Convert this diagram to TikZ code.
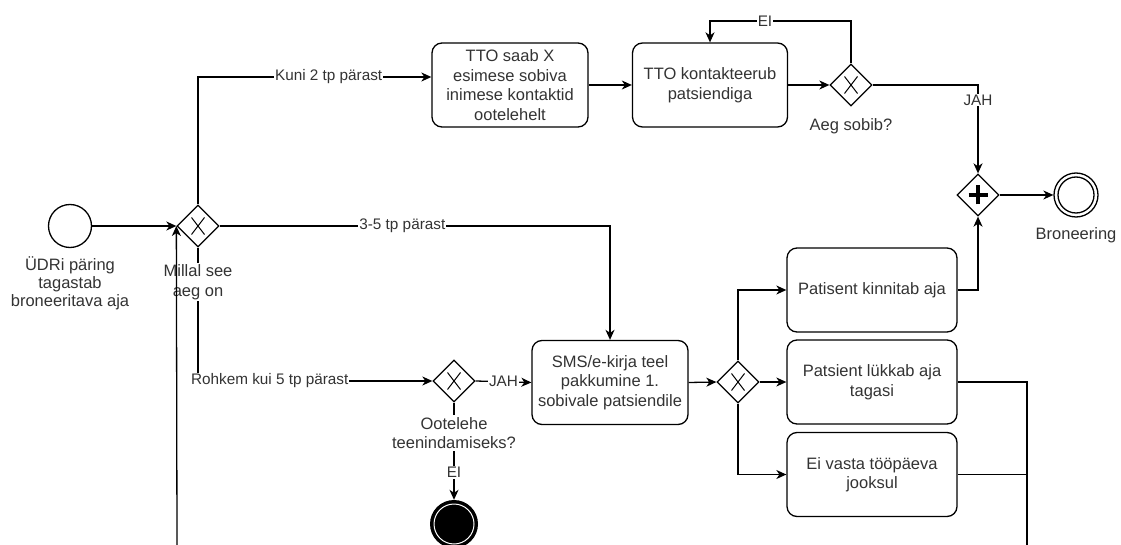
\documentclass[tikz,border=0pt]{standalone}
\usepackage{fontspec}
\setmainfont{Liberation Sans}
\usetikzlibrary{shapes.geometric,arrows.meta}
\definecolor{txt}{HTML}{333333}
\begin{document}
\begin{tikzpicture}[x=1pt,y=-1pt,
  line/.style={line width=1.3pt, draw=black},
  arr/.style={line, -{Stealth[length=10pt,width=9pt,inset=3pt]}},
  task/.style={draw, line width=1.3pt, rounded corners=10pt, minimum width=156pt,
    minimum height=84pt, align=center, text=txt, inner sep=0pt,
    font=\fontsize{16.5}{19.5}\selectfont},
  gate/.style={diamond, draw, line width=1.3pt, minimum width=42pt,
    minimum height=42pt, inner sep=0pt, fill=white},
  xgate/.style={gate, path picture={
    \draw[line width=1pt]
      ([shift={(-6.5pt,-8.5pt)}]path picture bounding box.center) -- ++(13pt,17pt)
      ([shift={(6.5pt,-8.5pt)}]path picture bounding box.center) -- ++(-13pt,17pt);}},
  pgate/.style={gate, path picture={
    \draw[line width=3.5pt]
      ([shift={(-9.5pt,0pt)}]path picture bounding box.center) -- ++(19pt,0pt)
      ([shift={(0pt,-9.5pt)}]path picture bounding box.center) -- ++(0pt,19pt);}},
  elabel/.style={fill=white, inner sep=1pt, text=txt,
    font=\fontsize{15.3}{18}\selectfont},
  glabel/.style={align=center, text=txt, inner sep=2pt,
    font=\fontsize{16.5}{19.5}\selectfont},
]
\useasboundingbox (0,0) rectangle (1121,545);

% events
\node[circle, draw, line width=1.3pt, minimum size=43pt, inner sep=0pt] (start) at (70,226) {};
\node[circle, draw, line width=1.3pt, minimum size=44pt, inner sep=0pt] (endB) at (1076,195) {};
\draw[line width=1.3pt] (endB) circle (18pt);
\node[circle, fill=black, minimum size=48pt, inner sep=0pt] (term) at (454,524) {};
\draw[white, line width=1pt] (term) circle (20pt);

% gateways
\node[xgate] (g1) at (198,226) {};
\node[xgate] (g2) at (851,85) {};
\node[pgate] (plus) at (978,195) {};
\node[xgate] (og) at (454,381) {};
\node[xgate] (g3) at (738,382) {};

% tasks
\node[task] (b1) at (510,85) {TTO saab X\\esimese sobiva\\inimese kontaktid\\ootelehelt};
\node[task, minimum width=155pt] (b2) at (710,85) {TTO kontakteerub\\patsiendiga};
\node[task] (sms) at (610,382.5) {SMS/e-kirja teel\\pakkumine 1.\\sobivale patsiendile};
\node[task, minimum width=170pt] (bA) at (872,290) {Patisent kinnitab aja};
\node[task, minimum width=170pt] (bB) at (872,382) {Patsient lükkab aja\\tagasi};
\node[task, minimum width=170pt] (bC) at (872,474.5) {Ei vasta tööpäeva\\jooksul};

% helper points
\coordinate (eitop) at (851,21);
\coordinate (down) at (1027,545);
\coordinate (up) at (177,545);

% flows
\draw[arr] (start.east) -- (g1.west);
\draw[arr] (g1.north) |- node[elabel, pos=0.78] {Kuni 2 tp pärast} ([yshift=8pt]b1.west);
\draw[arr] (g1.east) -| node[elabel, pos=0.234] {3-5 tp pärast} (sms.north);
\draw[arr] (g1.south) |- node[elabel, pos=0.653] {Rohkem kui 5 tp pärast} (og.west);
\draw[arr] (og.east) -- node[elabel] {JAH} (sms.west);
\draw[arr] (og.south) -- node[elabel, pos=0.72] {EI} (term.north);
\draw[arr] (b1.east) -- (b2.west);
\draw[arr] (b2.east) -- (g2.west);
\draw[arr] (g2.north) -- (eitop) -| node[elabel, pos=0.305] {EI} (b2.north);
\draw[arr] (g2.east) -| node[elabel, pos=0.585] {JAH} (plus.north);
\draw[arr] (plus.east) -- (endB.west);
\draw[arr] (bA.east) -| (plus.south);
\draw[arr] (sms.east) -- (g3.west);
\draw[arr] (g3.north) |- (bA.west);
\draw[arr] (g3.east) -- (bB.west);
\draw[arr] (g3.south) |- (bC.west);
\draw[line] (bB.east) -| (down);
\draw[line] (bC.east) -- (bC.east -| down);

% labels of events and gateways
\node[glabel, inner sep=0pt, font=\fontsize{16.5}{18}\selectfont] at (70,283)
  {ÜDRi päring\\tagastab\\broneeritava aja};
\node[glabel, fill=white] at (198,282) {Millal see\\aeg on};
\node[glabel, fill=white] at (454,433) {Ootelehe\\teenindamiseks?};
\node[glabel] at (851,126) {Aeg sobib?};
\node[glabel] at (1076,235) {Broneering};

% return flow from below, drawn over the gateway label
\draw[arr] (up) -- (g1.west);
\end{tikzpicture}
\end{document}
